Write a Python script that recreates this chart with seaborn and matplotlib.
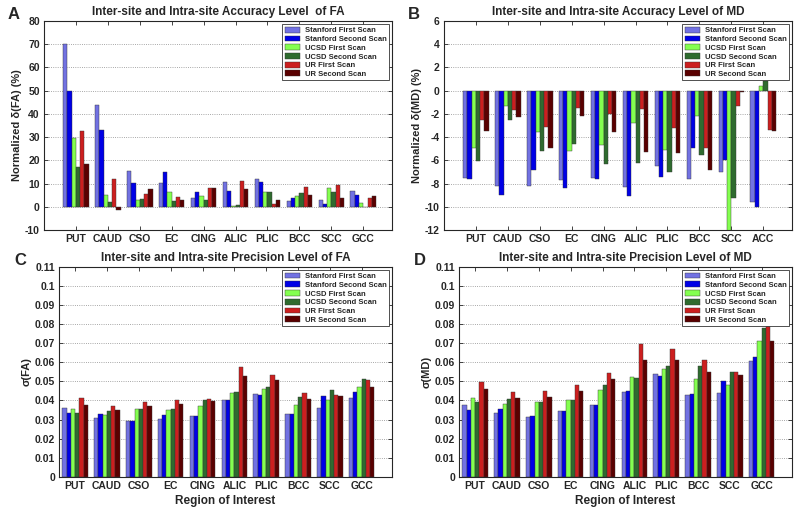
import matplotlib
matplotlib.use('Agg')
import pandas as pd
import seaborn as sns
from matplotlib import pyplot as plt
from matplotlib.ticker import FuncFormatter, MultipleLocator

# regions of interest
regions = ['PUT', 'CAUD', 'CSO', 'EC', 'CING', 'ALIC', 'PLIC', 'BCC', 'SCC', 'GCC']
regions_md = ['PUT', 'CAUD', 'CSO', 'EC', 'CING', 'ALIC', 'PLIC', 'BCC', 'SCC', 'ACC']
scans = ['Stanford First Scan', 'Stanford Second Scan', 'UCSD First Scan',
         'UCSD Second Scan', 'UR First Scan', 'UR Second Scan']
colors = ['#7272e2', '#0000e6', '#84ff50', '#2f6b2f', '#cc1f1f', '#5a0000']

# A: normalized accuracy of FA (%), one row per region, one value per scan
acc_fa = [
    [70.0, 50.0, 29.5, 17.0, 32.5, 18.5],
    [44.0, 33.0, 5.0, 2.0, 12.0, -1.5],
    [15.5, 10.3, 3.0, 3.3, 5.5, 7.7],
    [10.3, 15.0, 6.5, 2.3, 4.3, 3.0],
    [3.8, 6.5, 4.5, 3.0, 8.2, 8.0],
    [10.8, 7.0, 0.5, 0.8, 11.0, 7.5],
    [11.8, 10.5, 6.2, 6.5, 1.3, 3.0],
    [2.3, 3.8, 4.5, 6.0, 8.7, 5.0],
    [3.0, 1.2, 8.3, 6.4, 9.3, 4.0],
    [7.0, 5.3, 1.5, 0.0, 3.8, 4.5],
]

# B: normalized accuracy of MD (%)
acc_md = [
    [-7.5, -7.6, -4.9, -6.1, -2.5, -3.5],
    [-8.2, -9.0, -1.3, -2.5, -1.7, -2.3],
    [-8.2, -6.8, -3.6, -5.2, -3.1, -4.9],
    [-7.7, -8.4, -5.2, -4.6, -1.5, -2.2],
    [-7.5, -7.6, -4.7, -6.3, -2.0, -3.6],
    [-8.3, -9.1, -2.8, -6.2, -1.6, -5.3],
    [-6.5, -7.4, -5.1, -7.0, -3.2, -5.4],
    [-7.6, -4.9, -2.2, -5.5, -4.9, -6.8],
    [-7.0, -6.0, -12.5, -9.2, -1.3, -0.15],
    [-9.6, -10.0, 0.4, 0.8, -3.4, -3.5],
]

# C: precision of FA
prec_fa = [
    [0.0360, 0.0335, 0.0355, 0.0335, 0.0415, 0.0375],
    [0.0310, 0.0330, 0.0325, 0.0345, 0.0370, 0.0350],
    [0.0295, 0.0293, 0.0355, 0.0355, 0.0390, 0.0370],
    [0.0305, 0.0323, 0.0350, 0.0355, 0.0403, 0.0383],
    [0.0320, 0.0318, 0.0373, 0.0400, 0.0410, 0.0397],
    [0.0400, 0.0403, 0.0440, 0.0445, 0.0573, 0.0527],
    [0.0435, 0.0430, 0.0460, 0.0470, 0.0535, 0.0505],
    [0.0330, 0.0328, 0.0375, 0.0420, 0.0440, 0.0410],
    [0.0360, 0.0423, 0.0405, 0.0455, 0.0430, 0.0425],
    [0.0413, 0.0443, 0.0470, 0.0510, 0.0508, 0.0470],
]

# D: precision of MD
prec_md = [
    [0.0377, 0.0350, 0.0415, 0.0390, 0.0495, 0.0460],
    [0.0333, 0.0353, 0.0380, 0.0408, 0.0442, 0.0415],
    [0.0315, 0.0320, 0.0393, 0.0393, 0.0450, 0.0418],
    [0.0343, 0.0347, 0.0403, 0.0403, 0.0483, 0.0450],
    [0.0375, 0.0377, 0.0455, 0.0483, 0.0545, 0.0510],
    [0.0443, 0.0450, 0.0525, 0.0520, 0.0697, 0.0610],
    [0.0540, 0.0530, 0.0565, 0.0580, 0.0670, 0.0610],
    [0.0430, 0.0435, 0.0513, 0.0583, 0.0610, 0.0548],
    [0.0440, 0.0500, 0.0482, 0.0550, 0.0550, 0.0535],
    [0.0605, 0.0630, 0.0710, 0.0777, 0.0790, 0.0713],
]

sns.set_theme(style='ticks')
plt.rcParams['font.family'] = ['Liberation Sans', 'DejaVu Sans']
plt.rcParams['font.weight'] = 'bold'


def long_df(regs, rows):
    recs = [(r, s, v) for r, vals in zip(regs, rows) for s, v in zip(scans, vals)]
    return pd.DataFrame(recs, columns=['region', 'scan', 'value'])


def draw(ax, regs, rows, title, ylabel, letter, ylim, step, xlim, xlabel=None):
    df = long_df(regs, rows)
    sns.barplot(data=df, x='region', y='value', hue='scan', order=regs, hue_order=scans,
                palette=colors, saturation=1, width=0.8, errorbar=None, ax=ax,
                linewidth=0.3, edgecolor='#333333')
    ax.set_xlim(*xlim)
    ax.set_ylim(*ylim)
    ax.yaxis.set_major_locator(MultipleLocator(step))
    ax.yaxis.set_major_formatter(FuncFormatter(lambda v, p: '%g' % round(v, 4)))
    ax.yaxis.grid(True, linestyle=':', color='#8a8a8a', linewidth=0.6)
    ax.set_axisbelow(True)
    ax.tick_params(direction='in', top=True, right=True, length=3, width=0.6,
                   labelsize=7.5, pad=3)
    for lab in ax.get_xticklabels() + ax.get_yticklabels():
        lab.set_fontweight('bold')
    for sp in ax.spines.values():
        sp.set_linewidth(0.8)
        sp.set_visible(True)
    ax.set_title(title, fontsize=8.5, fontweight='bold', pad=4)
    ax.set_ylabel(ylabel, fontsize=8, fontweight='bold', labelpad=2)
    if xlabel:
        ax.set_xlabel(xlabel, fontsize=8.5, fontweight='bold', labelpad=3)
    else:
        ax.set_xlabel('')
    ax.legend(loc='upper right', bbox_to_anchor=(0.995, 0.99), fontsize=5.5,
              frameon=True, fancybox=False, framealpha=1, edgecolor='#333333',
              handlelength=2.0, handleheight=0.8, labelspacing=0.15,
              borderpad=0.3, handletextpad=0.6, borderaxespad=0.2)
    ax.get_legend().get_frame().set_linewidth(0.6)
    ax.text(-0.105 if letter in 'AB' else -0.135, 1.065, letter, transform=ax.transAxes,
            fontsize=12, fontweight='bold', ha='left', va='top')


fig = plt.figure(figsize=(8, 5.09), dpi=100)
axA = fig.add_axes([0.055, 0.548, 0.435, 0.411])
axB = fig.add_axes([0.555, 0.548, 0.435, 0.411])
axC = fig.add_axes([0.074, 0.063, 0.416, 0.413])
axD = fig.add_axes([0.574, 0.063, 0.416, 0.413])

draw(axA, regions, acc_fa, 'Inter-site and Intra-site Accuracy Level  of FA',
     'Normalized \u03b4(FA) (%)', 'A', (-10, 80), 10, (-1, 9.9))
draw(axB, regions_md, acc_md, 'Inter-site and Intra-site Accuracy Level of MD',
     'Normalized \u03b4(MD) (%)', 'B', (-12, 6), 2, (-1, 9.9))
draw(axC, regions, prec_fa, 'Inter-site and Intra-site Precision Level of FA',
     '\u03c3(FA)', 'C', (0, 0.11), 0.01, (-0.5, 9.95), 'Region of Interest')
draw(axD, regions, prec_md, 'Inter-site and Intra-site Precision Level of MD',
     '\u03c3(MD)', 'D', (0, 0.11), 0.01, (-0.5, 9.95), 'Region of Interest')

fig.savefig('out.png', dpi=100)
